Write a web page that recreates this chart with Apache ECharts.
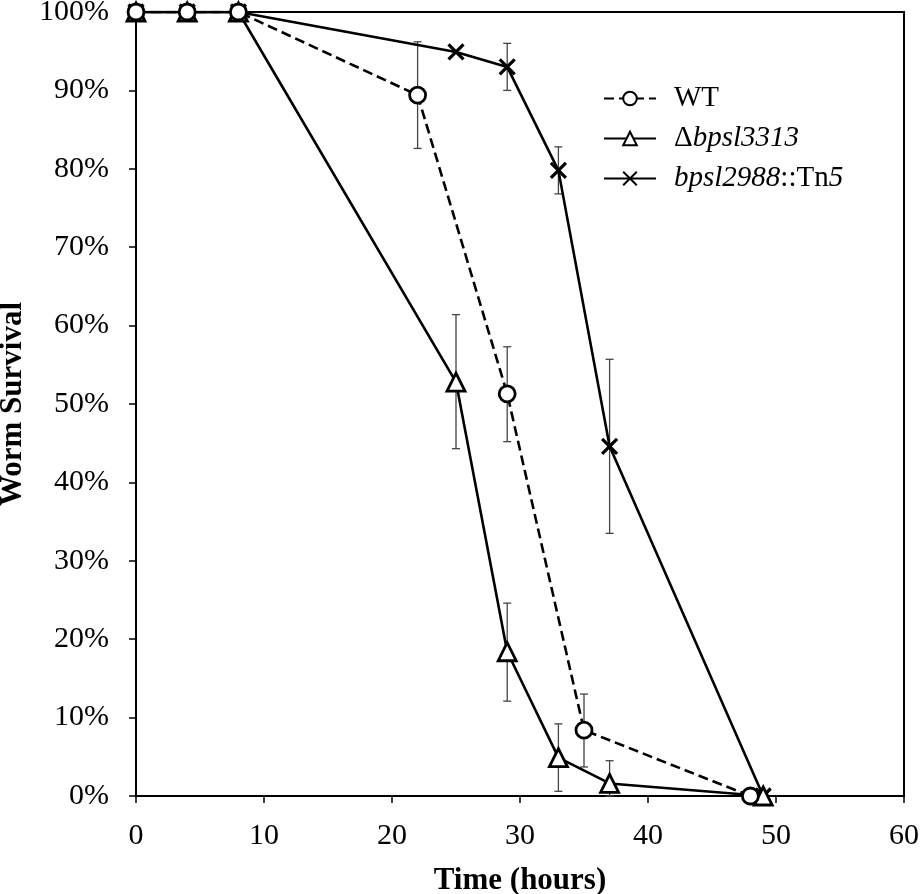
<!DOCTYPE html>
<html><head><meta charset="utf-8">
<script src="https://cdn.jsdelivr.net/npm/echarts@6/dist/echarts.min.js"></script>
<style>html,body{margin:0;padding:0;background:#fff}#c{width:920px;height:894px}</style>
</head><body><div id="c"></div>
<script>
const wtHours = [0, 4, 8, 22, 29, 35, 48];
const wtSurvival = [100, 100, 100, 89.4, 51.3, 8.4, 0];
const wtLow = [null, null, null, 82.6, 45.2, 3.7, null];
const wtHigh = [null, null, null, 96.2, 57.3, 13.0, null];

const dHours = [0, 4, 8, 25, 29, 33, 37, 49];
const dSurvival = [100, 100, 100, 52.8, 18.4, 4.9, 1.6, 0];
const dLow = [null, null, null, 44.3, 12.1, 0.6, 0, null];
const dHigh = [null, null, null, 61.4, 24.6, 9.2, 4.5, null];

const tHours = [0, 4, 8, 25, 29, 33, 37, 49];
const tSurvival = [100, 100, 100, 94.9, 93.0, 79.8, 44.6, 0];
const tLow = [null, null, null, null, 90.0, 76.8, 33.5, null];
const tHigh = [null, null, null, null, 96.0, 82.8, 55.7, null];

const xTicks = [0, 60, 10];
const yTicks = [0, 100, 10];

function pts(h, v) { return h.map((x, i) => [x, v[i]]); }
function errs(h, lo, hi) {
  const out = [];
  h.forEach((x, i) => { if (lo[i] !== null) out.push([x, lo[i], hi[i]]); });
  return out;
}
const FONT = '"Liberation Serif", "DejaVu Serif", serif';
const crossPath = 'path://M0,0L10,10M10,0L0,10';

function errSeries(data) {
  return {
    type: 'custom', data: data, z: 1, silent: true,
    renderItem: function (params, api) {
      const x = api.value(0);
      const a = api.coord([x, api.value(2)]);
      const b = api.coord([x, api.value(1)]);
      const w = 4;
      const st = { stroke: '#444', lineWidth: 1.3 };
      return { type: 'group', children: [
        { type: 'line', shape: { x1: a[0], y1: a[1], x2: b[0], y2: b[1] }, style: st },
        { type: 'line', shape: { x1: a[0] - w, y1: a[1], x2: a[0] + w, y2: a[1] }, style: st },
        { type: 'line', shape: { x1: b[0] - w, y1: b[1], x2: b[0] + w, y2: b[1] }, style: st }
      ]};
    }
  };
}

const chart = echarts.init(document.getElementById('c'), null, { renderer: 'canvas' });
chart.setOption({
  animation: false,
  backgroundColor: '#fff',
  textStyle: { fontFamily: FONT, color: '#000' },
  grid: { left: 136, right: 16, top: 12, bottom: 98, show: true, borderColor: '#000', borderWidth: 2,
          containLabel: false, outerBoundsMode: 'none' },
  xAxis: {
    type: 'value', min: xTicks[0], max: xTicks[1], interval: xTicks[2],
    name: 'Time (hours)', nameLocation: 'middle', nameGap: 69,
    nameTextStyle: { fontFamily: FONT, fontWeight: 'bold', fontSize: 31, color: '#000' },
    axisLine: { show: true, lineStyle: { color: '#000', width: 2 } },
    axisTick: { show: true, inside: false, length: 7, lineStyle: { color: '#000', width: 1.5 } },
    axisLabel: { fontFamily: FONT, fontSize: 30, color: '#000', margin: 25 },
    splitLine: { show: false }
  },
  yAxis: {
    type: 'value', min: yTicks[0], max: yTicks[1], interval: yTicks[2],
    name: 'Worm Survival', nameLocation: 'middle', nameGap: 103, nameRotate: 90,
    nameTextStyle: { fontFamily: FONT, fontWeight: 'bold', fontSize: 31, color: '#000' },
    axisLine: { show: true, lineStyle: { color: '#000', width: 2 } },
    axisTick: { show: true, inside: false, length: 7, lineStyle: { color: '#000', width: 1.5 } },
    axisLabel: { fontFamily: FONT, fontSize: 30, color: '#000', margin: 27, formatter: '{value}%' },
    splitLine: { show: false }
  },
  legend: {
    orient: 'vertical', left: 603, top: 84, itemGap: 11, padding: 0,
    itemWidth: 52, itemHeight: 17,
    data: ['WT', 'D', 'T'],
    textStyle: {
      fontFamily: FONT, fontSize: 29, color: '#000', padding: [0, 0, 0, 13],
      rich: {
        r: { fontFamily: FONT, fontSize: 29, color: '#000' },
        i: { fontFamily: FONT, fontSize: 29, fontStyle: 'italic', color: '#000' }
      }
    },
    formatter: function (n) {
      if (n === 'WT') return '{r|WT}';
      if (n === 'D') return '{r|Δ}{i|bpsl3313}';
      return '{i|bpsl2988}{r|::Tn}{i|5}';
    }
  },
  series: [
    errSeries(errs(wtHours, wtLow, wtHigh)),
    errSeries(errs(dHours, dLow, dHigh)),
    errSeries(errs(tHours, tLow, tHigh)),
    {
      name: 'T', type: 'line', data: pts(tHours, tSurvival), z: 3,
      symbol: crossPath, symbolSize: 15, showAllSymbol: true,
      lineStyle: { color: '#000', width: 2.6 },
      itemStyle: { color: '#000', borderColor: '#000', borderWidth: 3.2 }
    },
    {
      name: 'D', type: 'line', data: pts(dHours, dSurvival), z: 4,
      symbol: 'triangle', symbolSize: 18, showAllSymbol: true,
      lineStyle: { color: '#000', width: 2.6 },
      itemStyle: { color: '#fff', borderColor: '#000', borderWidth: 2.8 }
    },
    {
      name: 'WT', type: 'line', data: pts(wtHours, wtSurvival), z: 5,
      symbol: 'circle', symbolSize: 16, showAllSymbol: true,
      lineStyle: { color: '#000', width: 2.6, type: [10, 5] },
      itemStyle: { color: '#fff', borderColor: '#000', borderWidth: 2.8 }
    }
  ]
});
</script></body></html>
